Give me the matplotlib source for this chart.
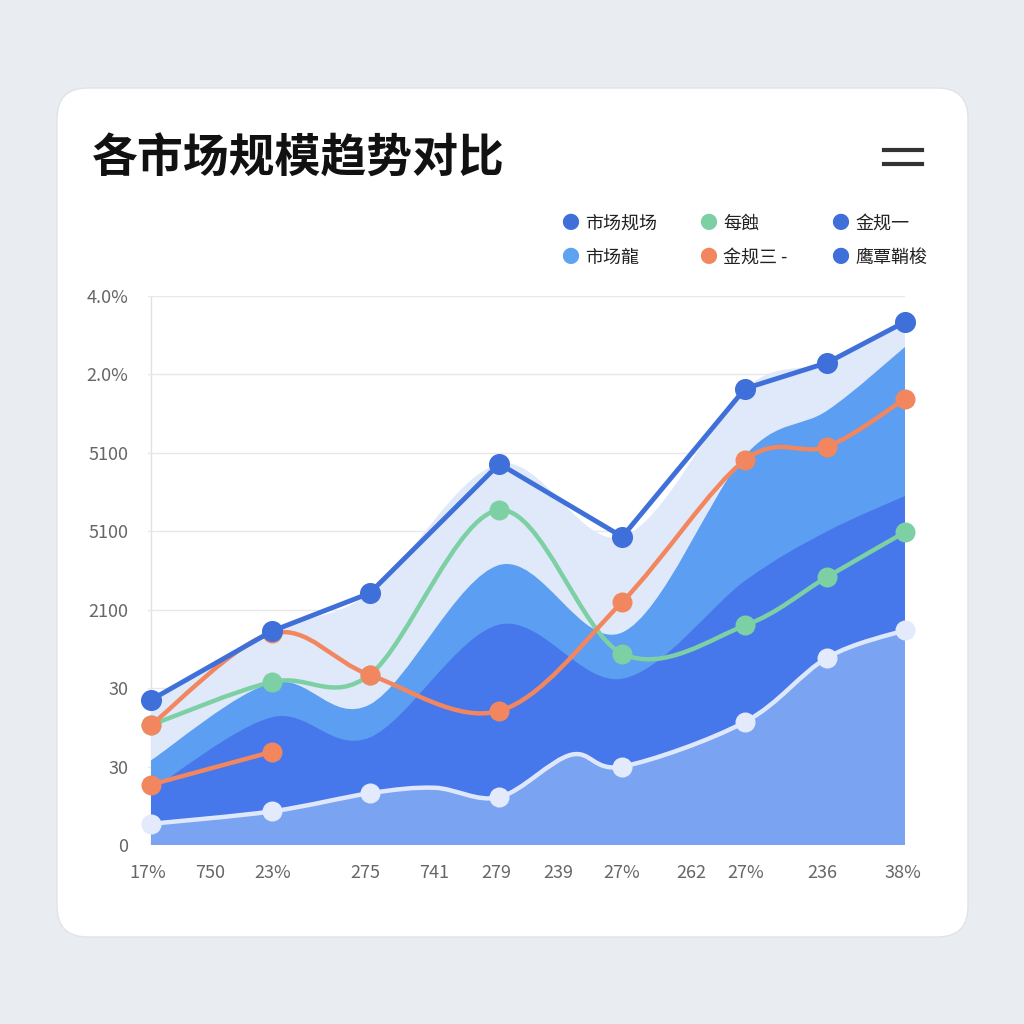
import matplotlib.pyplot as plt
import numpy as np
from matplotlib.patches import FancyBboxPatch, PathPatch
from matplotlib.path import Path

plt.rcParams['font.family'] = ['Noto Sans CJK SC', 'DejaVu Sans']

# data
x = [0, 16.1, 29.0, 46.2, 62.5, 78.8, 89.7, 100]
top_line = [1.85, 2.73, 3.21, 4.86, 3.93, 5.82, 6.15, 6.67]
mid_area = [1.08, 2.07, 1.79, 3.57, 2.71, 4.97, 5.54, 6.35]
dark_area = [0.70, 1.63, 1.37, 2.81, 2.12, 3.37, 4.00, 4.45]
green = [1.53, 2.08, 2.17, 4.27, 2.44, 2.80, 3.42, 3.99]
orange = [1.53, 2.70, 2.17, 1.71, 3.10, 4.91, 5.08, 5.69]
orange_low_x = [0, 16.1]
orange_low = [0.77, 1.19]
white_x = [0, 16.1, 29.0, 37.6, 46.2, 55.7, 62.5, 78.8, 89.7, 100]
white_line = [0.27, 0.43, 0.66, 0.73, 0.61, 1.15, 1.00, 1.57, 2.39, 2.74]
white_marks = [0, 1, 2, 4, 6, 7, 8, 9]

xtick_pos = [-0.4, 7.9, 16.1, 28.4, 37.6, 45.8, 54.0, 62.4, 71.6, 78.9, 89.0, 99.7]
xtick_labels = ['17%', '750', '23%', '275', '741', '279', '239', '27%', '262', '27%', '236', '38%']
ytick_labels = ['0', '30', '30', '2100', '5100', '5100', '2.0%', '4.0%']
legend_names = ['市场规场', '每蝕', '金规一', '市场龍', '金规三 -', '鹰覃鞘梭']
legend_colors = ['#3f6fd9', '#7dd0a4', '#3f6fd9', '#5fa2ef', '#f2875f', '#3f6fd9']


def smooth_verts(xs, ys):
    # catmull-rom -> bezier control points
    pts = np.column_stack([xs, ys]).astype(float)
    verts = [pts[0]]
    codes = [Path.MOVETO]
    for i in range(len(pts) - 1):
        p0 = pts[max(i - 1, 0)]
        p1 = pts[i]
        p2 = pts[i + 1]
        p3 = pts[min(i + 2, len(pts) - 1)]
        c1 = p1 + (p2 - p0) / 6
        c2 = p2 - (p3 - p1) / 6
        verts += [c1, c2, p2]
        codes += [Path.CURVE4] * 3
    return verts, codes


def smooth_area(ax, xs, ys, color, z):
    verts, codes = smooth_verts(xs, ys)
    verts = verts + [(xs[-1], 0), (xs[0], 0), verts[0]]
    codes = codes + [Path.LINETO, Path.LINETO, Path.CLOSEPOLY]
    ax.add_patch(PathPatch(Path(verts, codes), facecolor=color, edgecolor='none', zorder=z))


def smooth_line(ax, xs, ys, color, z, lw=3.2):
    verts, codes = smooth_verts(xs, ys)
    ax.add_patch(PathPatch(Path(verts, codes), facecolor='none', edgecolor=color, lw=lw,
                           zorder=z, capstyle='round', joinstyle='round'))


fig = plt.figure(figsize=(10.24, 10.24), dpi=100)
fig.patch.set_facecolor('#e9ecf1')

bg = fig.add_axes([0, 0, 1, 1], zorder=-10)
bg.set_xlim(0, 1)
bg.set_ylim(0, 1)
bg.axis('off')
bg.add_patch(FancyBboxPatch((57 / 1024, 1 - 937 / 1024), 911 / 1024, 849 / 1024,
                            boxstyle='round,pad=0,rounding_size=0.03',
                            facecolor='white', edgecolor='#dfe3ea', lw=1))

fig.text(92 / 1024, 1 - 160 / 1024, '各市场规模趋势对比', fontsize=33, fontweight='bold',
         va='center', ha='left', color='#111111')
for yy in (150, 164):
    bg.plot([884 / 1024, 922 / 1024], [1 - yy / 1024] * 2, color='#333333', lw=3)

leg_x = [570, 708, 840]
leg_y = [224, 258]
for i, (name, col) in enumerate(zip(legend_names, legend_colors)):
    px = leg_x[i % 3]
    py = leg_y[i // 3]
    fig.text(px / 1024, 1 - py / 1024, '●', color=col, fontsize=13, va='center', ha='center')
    fig.text((px + 15) / 1024, 1 - py / 1024, name, color='#222222', fontsize=13, va='center')

ax = fig.add_axes([148 / 1024, 1 - 845 / 1024, 757 / 1024, 549 / 1024], zorder=1)
ax.set_xlim(0, 100)
ax.set_ylim(0, 7)
ax.set_facecolor('none')
for s in ax.spines.values():
    s.set_visible(False)
ax.set_yticks(range(8))
ax.set_yticklabels(ytick_labels, color='#666666', fontsize=13)
ax.set_xticks(xtick_pos)
ax.set_xticklabels(xtick_labels, color='#666666', fontsize=13)
ax.tick_params(length=0, pad=14)
ax.yaxis.grid(True, color='#e6e8ec', lw=1)
ax.set_axisbelow(True)
ax.axvline(0, color='#dde1e7', lw=1, zorder=0)

smooth_area(ax, x, top_line, '#dfe9f9', 1)
smooth_area(ax, x, mid_area, '#5c9ef1', 2)
smooth_area(ax, x, dark_area, '#4677eb', 3)
smooth_area(ax, white_x, white_line, '#7aa4f1', 4)

smooth_line(ax, white_x, white_line, '#dfe8fb', 5)
wx = [white_x[i] for i in white_marks]
wy = [white_line[i] for i in white_marks]
ax.scatter(wx, wy, s=180, color='#e3eafb', zorder=6, clip_on=False)

smooth_line(ax, x, green, '#7dd0a4', 7)
ax.scatter(x, green, s=180, color='#7dd0a4', zorder=8, clip_on=False)
smooth_line(ax, x, orange, '#f2875f', 7)
ax.scatter(x, orange, s=180, color='#f2875f', zorder=8, clip_on=False)
ax.plot(orange_low_x, orange_low, color='#f2875f', lw=3.2, zorder=7)
ax.scatter(orange_low_x, orange_low, s=180, color='#f2875f', zorder=8, clip_on=False)
ax.plot(x, top_line, color='#3f6fd9', lw=3.5, zorder=9)
ax.scatter(x, top_line, s=200, color='#3f6fd9', zorder=10, clip_on=False)

fig.savefig('out.png', dpi=100, facecolor=fig.get_facecolor())
